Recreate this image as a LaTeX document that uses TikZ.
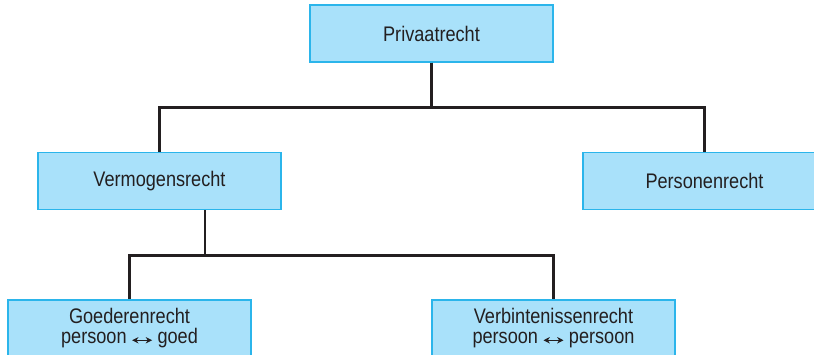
\documentclass[tikz,border=0pt]{standalone}
\usepackage{fontspec}
\setmainfont{Liberation Sans}[FakeStretch=0.86]
\usetikzlibrary{arrows.meta, positioning}

\definecolor{boxfill}{HTML}{A9E1FA}
\definecolor{boxline}{HTML}{2BB5EB}
\definecolor{linegrey}{HTML}{231F20}

% small double arrow between two words
\newcommand{\heenweer}{\tikz[baseline=-0.33ex]\draw[linegrey, line width=0.6pt, {Stealth[length=1.6mm,width=1.6mm]}-{Stealth[length=1.6mm,width=1.6mm]}] (0,0) -- (0.5,0);}

\begin{document}
\begin{tikzpicture}
        \tikzstyle{box} = [rectangle, draw=boxline, line width=1pt, fill=boxfill, text centered, align=center, text=linegrey, font=\fontsize{15}{14.2}\selectfont, minimum height=1.425cm, minimum width=6.075cm, inner sep=0pt]
        \tikzstyle{line} = [linegrey, line width=2.1pt]

        \useasboundingbox (-10.7875,-8.0375) rectangle (9.5625,0.8375);
        \clip (-10.7875,-8.0375) rectangle (9.5625,0.8375);

        \node (privaat) [box] {Privaatrecht};
        \node (vermogen) [box, below of=privaat, yshift=-2.6875cm, xshift=-6.8cm] {Vermogensrecht};
        \node (personen) [box, right of=vermogen, xshift=12.625cm] {Personenrecht};

        \node (goederen) [box, below of=vermogen, yshift=-2.6875cm, xshift=-0.75cm] {Goederenrecht\\persoon \heenweer{} goed};
        \node (verbint) [box, right of=goederen, xshift=9.6cm] {Verbintenissenrecht\\persoon \heenweer{} persoon};

        \draw [line] (privaat.south) -- ++(0,-1.125) -| (vermogen.north);
        \draw [line] (privaat.south) -- ++(0,-1.125) -| (personen.north);
        \draw [line] ([xshift=1.1375cm]vermogen.south) -- ++(0,-1.125) -| (goederen.north);
        \draw [line] ([xshift=1.1375cm]vermogen.south) -- ++(0,-1.125) -| (verbint.north);
    \end{tikzpicture}
\end{document}
